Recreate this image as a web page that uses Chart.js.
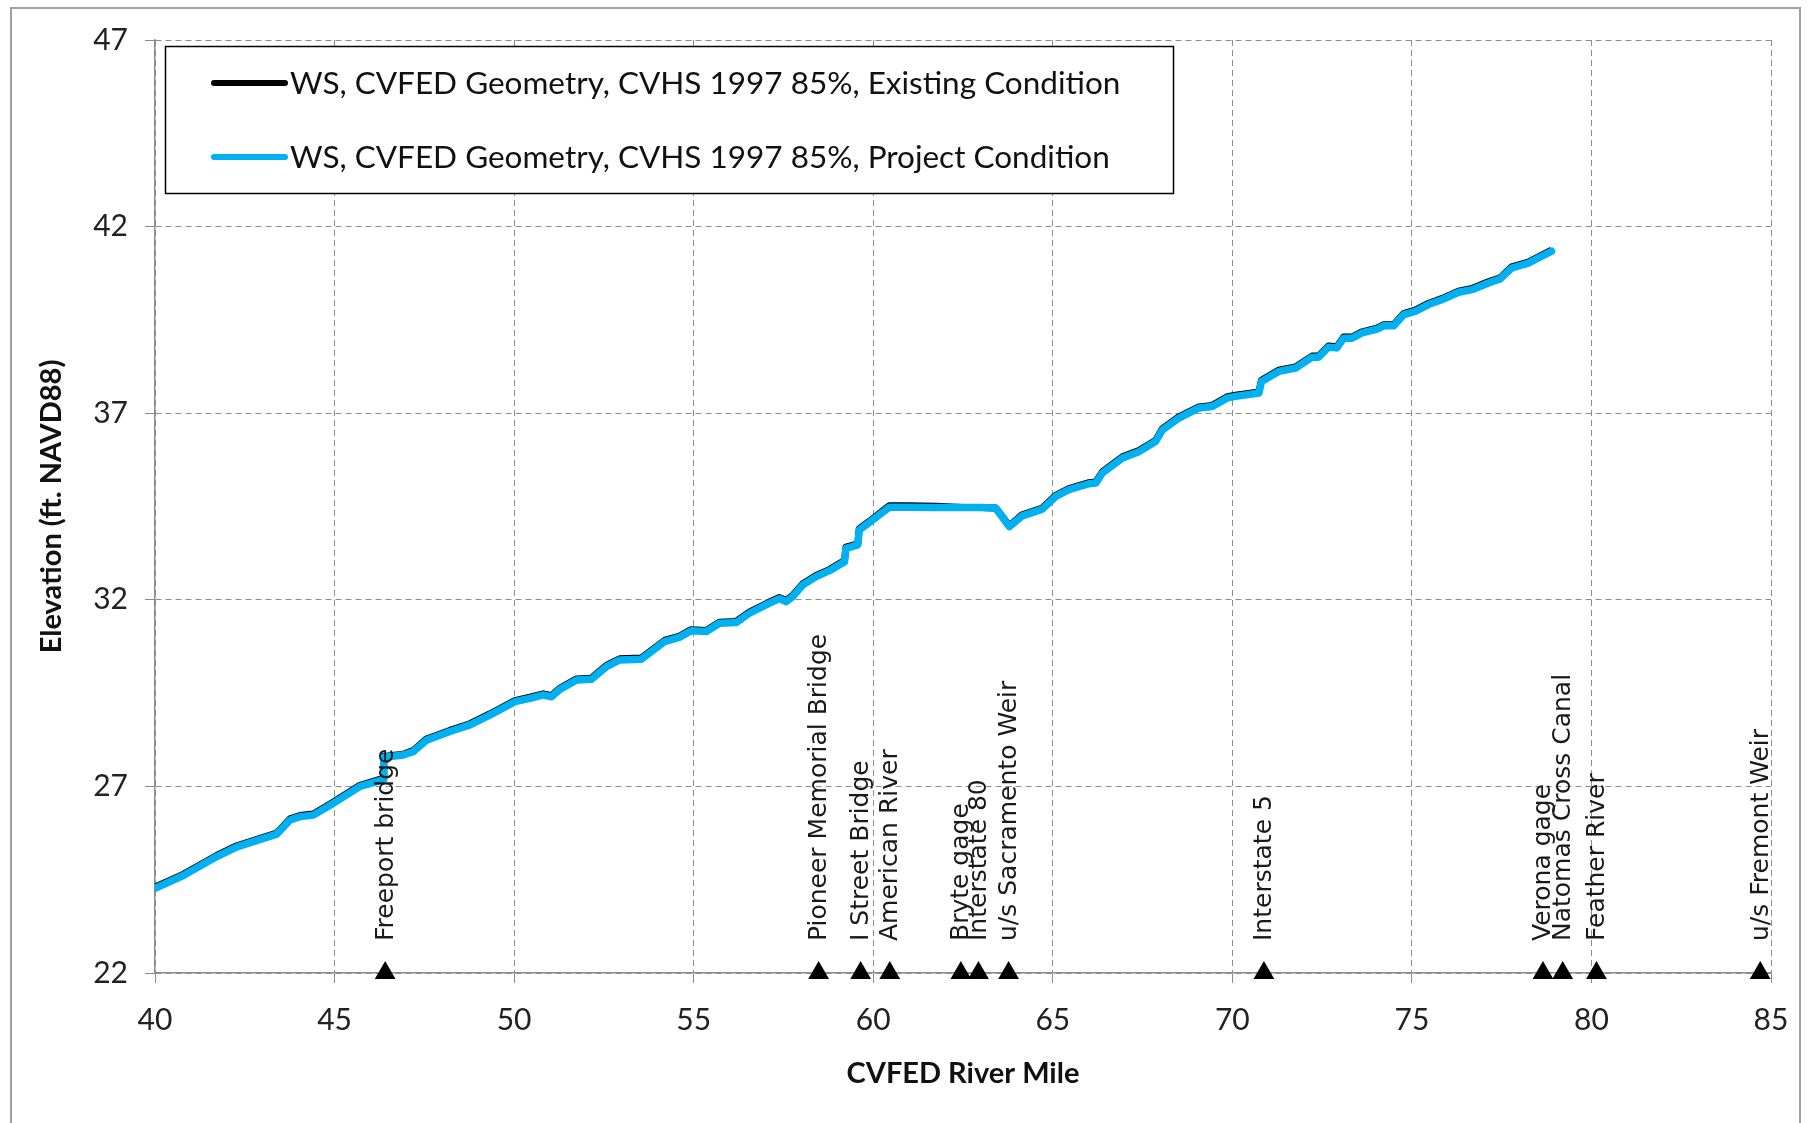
<!DOCTYPE html>
<html>
<head>
<meta charset="utf-8">
<title>Water surface profile</title>
<script src="https://cdn.jsdelivr.net/npm/chart.js@4.4.1/dist/chart.umd.min.js"></script>
<style>
    body { margin: 0; background: #fff; }
    #chartBox { width: 1810px; height: 1123px; position: relative; }
</style>
</head>
<body>
<div id="chartBox"><canvas id="profileChart"></canvas></div>
<script>
    // river mile stations
    var riverMile = [40.00, 40.80, 41.72, 42.28, 43.39, 43.76, 44.04, 44.41, 44.97, 45.71,
        46.31, 46.36, 46.37, 46.91, 47.19, 47.56, 48.21, 48.77, 49.32, 50.02,
        50.44, 50.81, 51.04, 51.27, 51.74, 52.15, 52.57, 52.94, 53.54, 54.19,
        54.61, 54.93, 55.35, 55.72, 56.18, 56.55, 57.11, 57.39, 57.57, 57.76,
        58.04, 58.41, 58.78, 59.20, 59.24, 59.57, 59.61, 59.89, 60.17, 60.45,
        61.00, 61.75, 62.50, 63.00, 63.41, 63.79, 64.15, 64.71, 65.08, 65.45,
        66.01, 66.20, 66.38, 66.94, 67.40, 67.86, 68.05, 68.51, 69.07, 69.44,
        69.86, 70.09, 70.74, 70.81, 71.29, 71.76, 72.22, 72.40, 72.68, 72.91,
        73.10, 73.33, 73.61, 74.03, 74.21, 74.49, 74.77, 75.09, 75.46, 75.83,
        76.30, 76.67, 77.13, 77.46, 77.78, 78.24, 78.89];

    // water surface, project condition (blue)
    var wsProject = [24.27, 24.62, 25.12, 25.38, 25.72, 26.10, 26.19, 26.23, 26.55, 27.00,
        27.17, 27.20, 27.78, 27.84, 27.93, 28.24, 28.47, 28.65, 28.91, 29.27,
        29.36, 29.45, 29.40, 29.60, 29.85, 29.87, 30.21, 30.39, 30.41, 30.88,
        31.00, 31.17, 31.15, 31.37, 31.39, 31.64, 31.91, 32.03, 31.95, 32.09,
        32.40, 32.62, 32.78, 33.02, 33.38, 33.47, 33.87, 34.07, 34.28, 34.48,
        34.48, 34.47, 34.47, 34.47, 34.46, 33.96, 34.25, 34.43, 34.77, 34.95,
        35.11, 35.13, 35.40, 35.80, 35.97, 36.24, 36.55, 36.87, 37.14, 37.18,
        37.41, 37.45, 37.54, 37.85, 38.12, 38.21, 38.50, 38.50, 38.77, 38.75,
        39.01, 39.01, 39.15, 39.25, 39.34, 39.34, 39.64, 39.73, 39.91, 40.04,
        40.24, 40.31, 40.49, 40.60, 40.89, 41.02, 41.34];

    // water surface, existing condition (black) - sits a hair above the blue
    var wsExisting = [24.30, 24.65, 25.15, 25.41, 25.75, 26.13, 26.22, 26.26, 26.58, 27.03,
        27.20, 27.23, 27.80, 27.86, 27.96, 28.27, 28.50, 28.68, 28.94, 29.30,
        29.39, 29.48, 29.43, 29.63, 29.88, 29.90, 30.24, 30.42, 30.44, 30.91,
        31.03, 31.20, 31.18, 31.40, 31.42, 31.67, 31.94, 32.06, 31.98, 32.12,
        32.43, 32.65, 32.81, 33.05, 33.41, 33.50, 33.90, 34.10, 34.31, 34.52,
        34.52, 34.51, 34.47, 34.47, 34.46, 33.98, 34.28, 34.46, 34.80, 34.98,
        35.14, 35.16, 35.43, 35.83, 36.00, 36.27, 36.58, 36.90, 37.17, 37.21,
        37.44, 37.48, 37.57, 37.88, 38.15, 38.24, 38.53, 38.53, 38.80, 38.78,
        39.04, 39.04, 39.18, 39.28, 39.37, 39.37, 39.67, 39.76, 39.94, 40.07,
        40.27, 40.34, 40.52, 40.63, 40.92, 41.05, 41.37];

    // landmarks shown as triangles along the bottom axis
    var markerNames = ["Freeport bridge", "Pioneer Memorial Bridge", "I Street Bridge", "American River",
        "Bryte gage", "Interstate 80", "u/s Sacramento Weir", "Interstate 5",
        "Verona gage", "Natomas Cross Canal", "Feather River", "u/s Fremont Weir"];
    var markerMiles = [46.41, 58.48, 59.65, 60.46, 62.44, 62.93, 63.77, 70.88, 78.65, 79.20, 80.14, 84.70];
    var markerElev = 22;

    var legendLabels = ["WS, CVFED Geometry, CVHS 1997 85%, Existing Condition",
        "WS, CVFED Geometry, CVHS 1997 85%, Project Condition"];

    var xTicks = { min: 40, max: 85, step: 5 };
    var yTicks = { min: 22, max: 47, step: 5 };

    function toPoints(xs, ys) {
        var pts = [];
        for (var i = 0; i < xs.length; i++) {
            pts.push({ x: xs[i], y: Array.isArray(ys) ? ys[i] : ys });
        }
        return pts;
    }

    var gridColor = "#8c8c8c";
    var blue = "#00b0f0";

    // draws the outer frame, the boxed legend and the rotated landmark names
    var decorPlugin = {
        id: "decor",
        beforeDraw: function(chart) {
            var ctx = chart.ctx;
            ctx.save();
            ctx.strokeStyle = "#a0a0a0";
            ctx.lineWidth = 2;
            ctx.strokeRect(11, 8, 1789, 1200);
            ctx.restore();
        },
        afterDatasetsDraw: function(chart) {
            var ctx = chart.ctx;
            var xs = chart.scales.x;
            ctx.save();
            ctx.fillStyle = "#1a1a1a";
            ctx.font = "25px 'DejaVu Sans'";
            ctx.textAlign = "left";
            ctx.textBaseline = "middle";
            for (var i = 0; i < markerNames.length; i++) {
                var px = xs.getPixelForValue(markerMiles[i]);
                ctx.save();
                ctx.translate(px + 1, 941);
                ctx.rotate(-Math.PI / 2);
                ctx.fillText(markerNames[i], 0, 0);
                ctx.restore();
            }
            ctx.restore();
        },
        afterDraw: function(chart) {
            var ctx = chart.ctx;
            ctx.save();
            ctx.fillStyle = "#fff";
            ctx.fillRect(165, 46, 1008, 147);
            ctx.strokeStyle = "#000";
            ctx.lineWidth = 1.5;
            ctx.strokeRect(165.5, 46.5, 1008, 147);
            var colors = ["#000", blue];
            var rows = [83, 157];
            ctx.lineCap = "round";
            ctx.lineWidth = 6;
            ctx.font = "31.5px Lato";
            ctx.textBaseline = "middle";
            ctx.textAlign = "left";
            for (var i = 0; i < legendLabels.length; i++) {
                ctx.strokeStyle = colors[i];
                ctx.beginPath();
                ctx.moveTo(214, rows[i]);
                ctx.lineTo(285, rows[i]);
                ctx.stroke();
                ctx.fillStyle = "#111";
                ctx.fillText(legendLabels[i], 290, rows[i] + 1);
            }
            ctx.restore();
        }
    };

    var myChart = new Chart(document.getElementById("profileChart"), {
        type: "scatter",
        data: {
            datasets: [{
                label: "markers",
                data: toPoints(markerMiles, markerElev),
                pointStyle: "triangle",
                pointRadius: 12,
                pointBackgroundColor: "#000",
                pointBorderWidth: 0,
                showLine: false,
                clip: false,
                order: 0
            }, {
                label: legendLabels[1],
                data: toPoints(riverMile, wsProject),
                showLine: true,
                borderColor: blue,
                borderWidth: 7.5,
                pointRadius: 0,
                tension: 0,
                borderJoinStyle: "round",
                borderCapStyle: "round",
                order: 1
            }, {
                label: legendLabels[0],
                data: toPoints(riverMile, wsExisting),
                showLine: true,
                borderColor: "#000",
                borderWidth: 7,
                pointRadius: 0,
                tension: 0,
                borderJoinStyle: "round",
                order: 2
            }]
        },
        options: {
            responsive: true,
            maintainAspectRatio: false,
            animation: false,
            events: [],
            layout: { padding: { left: 12, top: 40, right: 39, bottom: 0 } },
            plugins: {
                legend: { display: false },
                tooltip: { enabled: false }
            },
            scales: {
                x: {
                    type: "linear",
                    min: xTicks.min,
                    max: xTicks.max,
                    afterFit: function(scale) { scale.height = 150; },
                    ticks: {
                        stepSize: xTicks.step,
                        padding: 19,
                        color: "#222",
                        font: { family: "Lato", size: 30, lineHeight: 1.2 }
                    },
                    grid: { color: gridColor, lineWidth: 1, tickLength: 10, tickColor: gridColor },
                    border: { display: true, color: gridColor, width: 1.5, dash: [6, 4] },
                    title: {
                        display: true,
                        text: "CVFED River Mile",
                        color: "#111",
                        padding: { top: 0, bottom: 32 },
                        font: { family: "Lato", size: 29, weight: "bold", lineHeight: 1.2 }
                    }
                },
                y: {
                    type: "linear",
                    min: yTicks.min,
                    max: yTicks.max,
                    afterFit: function(scale) { scale.width = 143; },
                    ticks: {
                        stepSize: yTicks.step,
                        padding: 17,
                        color: "#222",
                        font: { family: "Lato", size: 30, lineHeight: 1.2 }
                    },
                    grid: { color: gridColor, lineWidth: 1, tickLength: 10, tickColor: gridColor },
                    border: { display: true, color: gridColor, width: 1.5, dash: [6, 4] },
                    title: {
                        display: true,
                        text: "Elevation (ft. NAVD88)",
                        color: "#111",
                        padding: { top: 22, bottom: 0 },
                        font: { family: "Lato", size: 29, weight: "bold", lineHeight: 1.2 }
                    }
                }
            }
        },
        plugins: [decorPlugin]
    });
</script>
</body>
</html>
